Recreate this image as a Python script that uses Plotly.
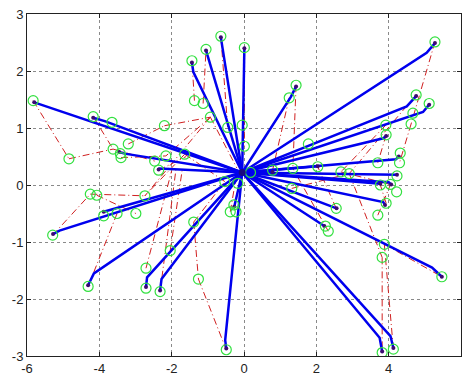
import plotly.graph_objects as go

# ---- data ----
center_x, center_y = -0.05, 0.22

# blue trajectories: kink point and end point
traj_kink_x = [-5.55, -3.85, -3.30, -2.34, -1.40, -1.00, -0.60, 0.00, 1.30,
               5.05, 4.50, 4.95, 3.85, 4.20, 4.20, 4.00, 3.75, 3.85, 2.50, 2.20, 5.20, 3.75, 4.05, 2.00, 0.75,
               -0.52, -0.26, -2.28, -2.68, -4.15, -5.10, -3.80]
traj_kink_y = [1.40, 1.12, 0.55, 0.29, 1.98, 2.22, 2.45, 2.30, 1.55,
               2.32, 1.38, 1.28, 0.82, 0.45, 0.18, 0.05, 0.03, -0.30, -0.39, -0.70, -1.45, -2.68, -2.65, 0.32, 0.23,
               -2.72, -0.36, -1.65, -1.62, -1.55, -0.80, -0.45]
traj_end_x = [-5.80, -4.17, -3.45, -2.36, -1.44, -1.05, -0.64, 0.01, 1.44,
              5.28, 4.76, 5.12, 3.93, 4.28, 4.23, 4.07, 3.77, 3.90, 2.56, 2.22, 5.47, 3.82, 4.13, 2.04, 0.79,
              -0.49, -0.27, -2.32, -2.71, -4.31, -5.28, -3.88]
traj_end_y = [1.45, 1.18, 0.58, 0.27, 2.15, 2.36, 2.59, 2.40, 1.73,
              2.49, 1.56, 1.41, 0.86, 0.50, 0.18, 0.01, 0.02, -0.35, -0.41, -0.72, -1.61, -2.92, -2.86, 0.33, 0.23,
              -2.87, -0.38, -1.85, -1.79, -1.76, -0.86, -0.47]

# green circles
circle_x = [-5.83, -4.84, -4.17, -3.65, -3.62, -3.42, -3.40, -3.20, -2.20, -2.16, -2.47, -2.36, -1.64,
            -1.44, -1.05, -0.64, -1.37, -1.13, -0.93, -0.45, -0.05, 0.01, 1.44, 1.25, 0.01, -0.53, -0.17,
            0.18, 0.79, 1.35, 2.04, 2.68, 2.91, 1.78, 5.28, 4.76, 5.12, 4.67, 4.62, 3.92, 3.93, 4.32, 4.30,
            3.70, 4.23, 4.05, 3.77, 4.22, 3.93, 3.70, 3.88, 3.82, 5.47, 3.82, 4.13, 1.32, 2.55, 2.25, 2.33,
            -0.28, -0.38, -0.22, -0.49, -1.39, -1.26, -2.04, -2.71, -2.71, -2.32, -4.31, -5.29, -4.25, -4.07,
            -2.74, -3.88, -3.51, -2.99]
circle_y = [1.48, 0.46, 1.20, 1.10, 0.63, 0.55, 0.48, 0.72, 1.04, 0.51, 0.42, 0.26, 0.54,
            2.18, 2.38, 2.61, 1.48, 1.43, 1.19, 1.01, 1.05, 2.41, 1.75, 1.53, 0.68, 0.06, 0.03,
            0.22, 0.26, 0.29, 0.32, 0.23, 0.20, 0.72, 2.51, 1.58, 1.43, 1.26, 1.07, 1.05, 0.88, 0.56, 0.39,
            0.39, 0.16, 0.01, 0.00, -0.12, -0.32, -0.53, -1.04, -1.27, -1.61, -2.94, -2.88, -0.06, -0.41, -0.72, -0.81,
            -0.35, -0.47, -0.47, -2.89, -0.65, -1.65, -1.15, -1.46, -1.81, -1.87, -1.78, -0.88, -0.16, -0.18,
            -0.19, -0.54, -0.50, -0.50]

# red dash-dot links
red_x0 = [-5.83, -4.84, -4.17, -3.62, -3.20, -3.40, -2.20, -0.93, -0.93, -1.37, -1.13, -0.64, 0.01, -0.93,
          -1.64, -1.64, 1.25, 1.44, 5.28, 4.62, 4.76, 3.92, 3.93, 1.35, 2.68, 2.91, 3.88, 3.82, 3.88, 3.70,
          2.33, 2.55, 3.93, -5.29, -4.25, -4.07, -3.51, -2.71, -2.32, -1.39, -1.26, -2.04, -1.39, -2.36, -0.38, 1.32]
red_y0 = [1.48, 0.46, 1.20, 0.63, 0.72, 0.48, 1.04, 1.19, 1.19, 1.48, 1.43, 2.61, 2.41, 1.19,
          0.54, 0.54, 1.53, 1.75, 2.51, 1.07, 1.58, 1.05, 0.88, 0.29, 0.23, 0.20, -1.04, -1.27, -1.04, -0.53,
          -0.81, -0.41, -0.32, -0.88, -0.16, -0.18, -0.50, -1.46, -1.87, -0.65, -1.65, -1.15, -0.65, 0.26, -0.47, -0.06]
red_x1 = [-4.84, -3.62, -3.62, -2.47, -2.20, -2.16, -0.93, -2.16, -2.74, -1.44, -1.05, -0.45, 0.01, -0.20,
          -2.74, -0.53, 0.79, 1.35, 4.62, 4.30, 2.91, 2.68, 3.70, 2.04, 4.05, 3.82, 4.13, 3.82, 5.47, 4.05,
          1.35, 2.04, 3.77, -4.25, -2.74, -2.99, -4.31, -2.00, -1.88, -1.26, -0.49, -1.70, -0.53, -1.60, -0.20, 2.91]
red_y1 = [0.46, 0.63, 0.63, 0.42, 1.04, 0.51, 1.19, 0.51, -0.19, 2.18, 2.38, 1.01, 0.68, 0.30,
          -0.19, 0.06, 0.26, 0.29, 1.07, 0.39, 0.20, 0.23, 0.39, 0.32, 0.01, -1.27, -2.88, -2.94, -1.61, 0.01,
          0.29, 0.32, 0.00, -0.16, -0.19, -0.50, -1.78, 0.25, 0.28, -1.65, -2.89, 0.30, 0.06, 0.50, 0.20, 0.20]

x_ticks = [-6, -4, -2, 0, 2, 4, 6]
y_ticks = [-3, -2, -1, 0, 1, 2, 3]

# ---- build ----
rx, ry = [], []
for a, b, c, d in zip(red_x0, red_y0, red_x1, red_y1):
    rx += [a, c, None]
    ry += [b, d, None]

bx, by = [], []
for kx, ky, ex, ey in zip(traj_kink_x, traj_kink_y, traj_end_x, traj_end_y):
    bx += [center_x, kx, ex, None]
    by += [center_y, ky, ey, None]

fig = go.Figure()
fig.add_trace(go.Scatter(x=rx, y=ry, mode="lines",
                         line=dict(color="#d02020", width=1, dash="7px,3px,1px,3px"),
                         hoverinfo="skip"))
fig.add_trace(go.Scatter(x=bx, y=by, mode="lines",
                         line=dict(color="#0000ee", width=2.5), hoverinfo="skip"))
fig.add_trace(go.Scatter(x=traj_end_x, y=traj_end_y, mode="markers",
                         marker=dict(color="#3a0a70", size=4), hoverinfo="skip"))
fig.add_trace(go.Scatter(x=circle_x, y=circle_y, mode="markers",
                         marker=dict(symbol="circle-open", color="#33e040", size=10,
                                     line=dict(width=1.2, color="#33e040")),
                         hoverinfo="skip"))
fig.add_trace(go.Scatter(x=[center_x], y=[center_y], mode="markers",
                         marker=dict(color="#1a0a80", size=7), hoverinfo="skip"))

axis_common = dict(showgrid=True, gridcolor="#8a8a8a", griddash="dot", gridwidth=1,
                   zeroline=False, showline=True, linecolor="#222222", linewidth=1,
                   mirror="ticks", ticks="inside", ticklen=4, tickcolor="#222222",
                   automargin=False,
                   tickfont=dict(family="Liberation Sans, Arial, sans-serif", size=13, color="#222222"))

fig.update_layout(
    width=462, height=376,
    margin=dict(l=27, r=1, t=14, b=20, autoexpand=False),
    paper_bgcolor="white", plot_bgcolor="white",
    showlegend=False,
    xaxis=dict(range=[-6, 6], tickvals=x_ticks, ticktext=[str(v) for v in x_ticks], **axis_common),
    yaxis=dict(range=[-3, 3], tickvals=y_ticks, ticktext=[str(v) for v in y_ticks], **axis_common),
)

fig.write_html("out.html", config={"displayModeBar": False},
               post_script="document.body.style.margin='0';document.body.style.overflow='hidden';")
